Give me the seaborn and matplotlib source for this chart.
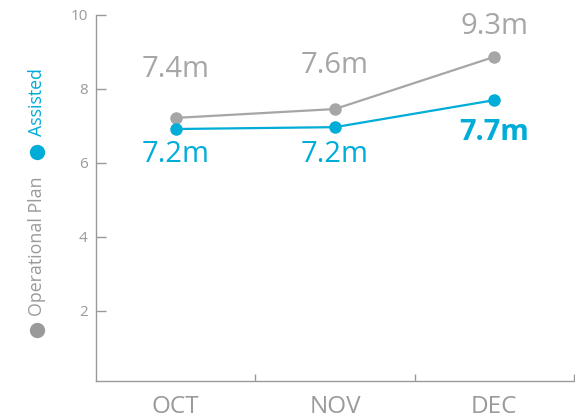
import pandas as pd
import matplotlib
matplotlib.use("Agg")
import matplotlib.pyplot as plt
import seaborn as sns

# chart data
months = ["OCT", "NOV", "DEC"]
plan_values = [7.21, 7.45, 8.86]
assisted_values = [6.91, 6.96, 7.69]
plan_labels = ["7.4m", "7.6m", "9.3m"]
assisted_labels = ["7.2m", "7.2m", "7.7m"]
y_ticks = [2, 4, 6, 8, 10]

gray = "#a6a6a6"
blue = "#00acd8"
axis_gray = "#9a9a9a"

df = pd.DataFrame({
    "month": months * 2,
    "value": plan_values + assisted_values,
    "series": ["Operational Plan"] * 3 + ["Assisted"] * 3,
})

sns.set_theme(style="white")
plt.rcParams["font.family"] = ["Open Sans", "DejaVu Sans"]

fig = plt.figure(figsize=(5.75, 4.2), dpi=100)
ax = fig.add_axes([0.167, 0.093, 0.831, 0.872])

sns.lineplot(data=df, x="month", y="value", hue="series",
             palette={"Operational Plan": gray, "Assisted": blue},
             marker="o", markersize=9, markeredgewidth=0, linewidth=1.6,
             legend=False, ax=ax)

ax.set_xlim(-0.5, 2.5)
ax.set_ylim(0.1, 10)
ax.set_xlabel("")
ax.set_ylabel("")
ax.set_yticks(y_ticks)
ax.set_xticks(range(len(months)))
ax.set_xticklabels(months)
ax.set_xticks([0.5, 1.5, 2.5], minor=True)

for s in ["top", "right"]:
    ax.spines[s].set_visible(False)
for s in ["left", "bottom"]:
    ax.spines[s].set_color(axis_gray)
    ax.spines[s].set_linewidth(1.0)

ax.tick_params(axis="y", direction="in", length=7, width=1, color=axis_gray,
               labelcolor=axis_gray, labelsize=11, pad=6, left=True)
ax.tick_params(axis="x", which="major", length=0, labelcolor=axis_gray,
               labelsize=17.5, pad=10)
ax.tick_params(axis="x", which="minor", direction="in", length=5, width=1,
               color=axis_gray, bottom=True)

# value labels
plan_offsets = [35, 31, 22]
assisted_offsets = [-18, -20, -23]
for i in range(len(months)):
    ax.annotate(plan_labels[i], (i, plan_values[i]), xytext=(0, plan_offsets[i]),
                textcoords="offset points", ha="center", va="center",
                fontsize=21, color=gray)
    ax.annotate(assisted_labels[i], (i, assisted_values[i]),
                xytext=(0, assisted_offsets[i]), textcoords="offset points",
                ha="center", va="center", fontsize=21, color=blue,
                fontweight="bold" if i == len(months) - 1 else "normal")

# vertical legend on the left
fig.text(0.064, 1 - 246 / 420, "Operational Plan", rotation=90, ha="center",
         va="center", fontsize=12.8, color=axis_gray)
fig.text(0.064, 1 - 102 / 420, "Assisted", rotation=90, ha="center",
         va="center", fontsize=12.8, color=blue)
ax.plot([0.064], [1 - 330 / 420], "o", color=axis_gray, markersize=10,
        transform=fig.transFigure, clip_on=False)
ax.plot([0.064], [1 - 152 / 420], "o", color=blue, markersize=10,
        transform=fig.transFigure, clip_on=False)

fig.savefig("out.png", dpi=100)
